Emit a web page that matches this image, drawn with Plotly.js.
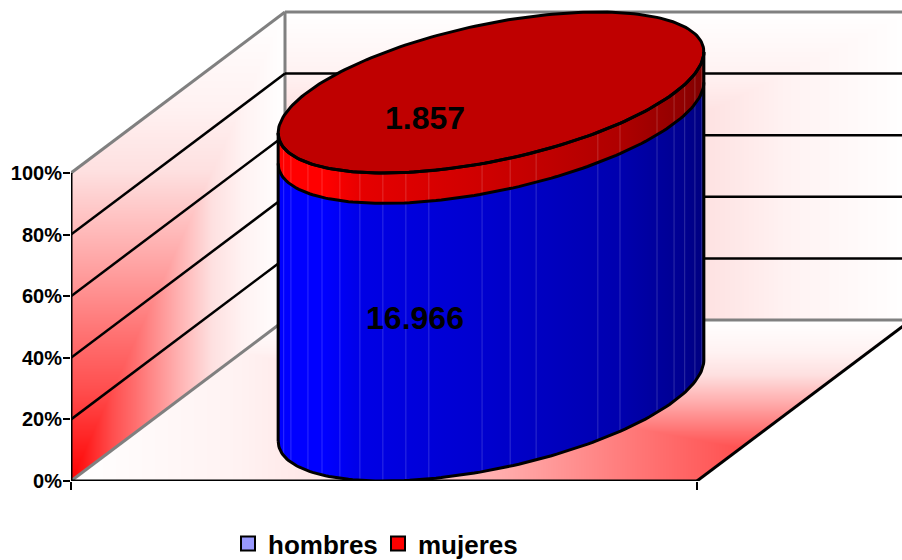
<!DOCTYPE html>
<html>
<head>
<meta charset="utf-8">
<script src="https://cdn.plot.ly/plotly-3.0.1.min.js"></script>
<style>html,body{margin:0;padding:0;background:#fff}#c{width:902px;height:560px}</style>
</head>
<body>
<div id="c"></div>
<script>
// ---- data ----
var seriesNames = ['hombres', 'mujeres'];
var seriesValues = [16966, 1857];
var seriesLabels = ['16.966', '1.857'];
var percentTicks = [0, 20, 40, 60, 80, 100];
var tickLabels = ['0%', '20%', '40%', '60%', '80%', '100%'];
// ---- style ----
var FONT = '"Liberation Sans", Arial, sans-serif';
var pxW = 626, pxH = 308;              // pixels per unit of the front face
var DX = 214 / pxW, DY = 161 / pxH * 100; // oblique depth vector in axis units
var A = 184 / pxW;                     // cylinder half width along the x axis
var facetFracs = [.005,.021,.045,.07,.11,.197,.249,.394,.455,.521,.646,.70,.754,.808,.855,.897,.93,.97,.987];
var sideScale = function (ch) {
  var s = [[0,255],[.11,255],[.2,229],[.5,205],[.8,175],[.95,145],[1,128]];
  return s.map(function (p) {
    return [p[0], ch === 'b' ? 'rgb(0,0,' + p[1] + ')' : 'rgb(' + p[1] + ',0,0)'];
  });
};

var total = seriesValues[0] + seriesValues[1];
var splitPct = seriesValues[0] / total * 100;
var R = Math.sqrt(A * A + DX * DX / 4), phi = Math.atan2(DX / 2, A);
var cx = 0.5 + DX / 2;
function ex(t) { return cx + A * Math.cos(t) + DX / 2 * Math.sin(t); }
function ey(t, p) { return p + DY / 2 * (1 + Math.sin(t)); }
function arc(p, t0, t1, n) {
  var xs = [], ys = [];
  for (var i = 0; i <= n; i++) { var t = t0 + (t1 - t0) * i / n; xs.push(ex(t)); ys.push(ey(t, p)); }
  return {x: xs, y: ys};
}
function sidePoly(p0, p1) {
  var lo = arc(p0, phi - Math.PI, phi, 120), hi = arc(p1, phi, phi - Math.PI, 120);
  return {x: lo.x.concat(hi.x), y: lo.y.concat(hi.y)};
}

// wall and floor gradient (rectangular "from corner" fill)
var xMaxPx = 831, yMaxPx = 470;
var wallZ = [];
for (var j = 0; j < yMaxPx; j++) {
  var row = [], py = 481 - j - 0.5;
  for (var i = 0; i < xMaxPx; i++) {
    var px = 71 + i + 0.5, f = null;
    var dx = px - 71;
    var loY = 481 - dx * 161 / 214, hiY = 173 - dx * 161 / 214;
    if (px <= 285 && py <= loY && py >= hiY) {
      f = Math.max(dx / 214, (481 - py) / 469);          // left wall
    } else if (px >= 285 && py >= 12 && py <= 320) {
      f = Math.max((px - 285) / 626, (320 - py) / 308);  // back wall
    } else if (py >= 320 && py <= 481 && px >= 71 + (481 - py) * 214 / 161 && px <= 697 + (481 - py) * 214 / 161) {
      f = Math.max((911 - px) / 840, (481 - py) / 161);  // floor
    }
    row.push(f);
  }
  wallZ.push(row);
}

function segs(list) {
  var xs = [], ys = [];
  list.forEach(function (s) { xs.push(s[0], s[2], null); ys.push(s[1], s[3], null); });
  return {x: xs, y: ys};
}
var gridList = [], grayList = [];
percentTicks.forEach(function (p) {
  if (p > 0 && p < 100) {
    gridList.push([0, p, DX, p + DY]);
    gridList.push([DX, p + DY, 1 + DX, p + DY]);
  }
});
grayList.push([0, 100, DX, 100 + DY], [DX, 100 + DY, 1 + DX, 100 + DY],
              [0, 0, DX, DY], [DX, DY, 1 + DX, DY], [DX, DY, DX, 100 + DY]);
var axisList = [[0, 0, 0, 100], [0, 0, 1, 0], [1, 0, 1 + DX, DY]];

function lineTrace(l, color, width) {
  var s = segs(l);
  return {type: 'scatter', mode: 'lines', x: s.x, y: s.y, line: {color: color, width: width},
          hoverinfo: 'skip', showlegend: false, cliponaxis: false};
}
function fillTrace(poly, gradient, solid) {
  var tr = {type: 'scatter', mode: 'lines', x: poly.x, y: poly.y, fill: 'toself',
            line: {width: 0, color: 'rgba(0,0,0,0)'}, hoverinfo: 'skip', showlegend: false, cliponaxis: false};
  if (gradient) tr.fillgradient = {type: 'horizontal', colorscale: gradient, start: cx - R, stop: cx + R};
  else tr.fillcolor = solid;
  return tr;
}

var facetX = [], facetY = [];
facetFracs.forEach(function (fr) {
  var t = phi - Math.acos(1 - 2 * fr);
  facetX.push(ex(t), ex(t), null);
  facetY.push(ey(t, 0), ey(t, 100), null);
});

var outlines = [];
[[0], [splitPct], [100]].forEach(function (o) {
  var a = arc(o[0], phi - Math.PI, phi, 120);
  outlines.push(a);
});
var outX = [], outY = [];
outlines.forEach(function (a) { outX = outX.concat(a.x, [null]); outY = outY.concat(a.y, [null]); });
var topE = arc(100, 0, 2 * Math.PI, 240);
outX = outX.concat(topE.x, [null]); outY = outY.concat(topE.y, [null]);
[phi, phi - Math.PI].forEach(function (t) {
  outX.push(ex(t), ex(t), null); outY.push(ey(t, 0), ey(t, 100), null);
});

var traces = [
  {type: 'heatmap', z: wallZ, x0: 0.5 / pxW, dx: 1 / pxW, y0: 0.5 / pxH * 100, dy: 1 / pxH * 100,
   zmin: 0, zmax: 1, showscale: false, hoverinfo: 'skip', zsmooth: false,
   colorscale: [[0,'#ff0000'],[.2,'#ff5050'],[.3,'#ff6e6e'],[.5,'#ffb0b0'],[.66,'#fee0e0'],[.8,'#fff2f2'],[1,'#ffffff']]},
  lineTrace(grayList, '#808080', 3),
  lineTrace(gridList, '#000000', 2.5),
  lineTrace(axisList, '#000000', 3),
  fillTrace(sidePoly(0, splitPct), sideScale('b')),
  fillTrace(sidePoly(splitPct, 100), sideScale('r')),
  fillTrace({x: topE.x, y: topE.y}, null, '#bf0000'),
  {type: 'scatter', mode: 'lines', x: facetX, y: facetY, line: {color: 'rgba(255,255,255,0.18)', width: 1},
   hoverinfo: 'skip', showlegend: false, cliponaxis: false},
  {type: 'scatter', mode: 'lines', x: outX, y: outY, line: {color: '#000000', width: 3},
   hoverinfo: 'skip', showlegend: false, cliponaxis: false},
  {type: 'scatter', mode: 'text', x: [(415 - 71) / pxW, (425 - 71) / pxW], y: [(481 - 320.5) / pxH * 100, (481 - 121) / pxH * 100],
   text: seriesLabels, textposition: 'middle center',
   textfont: {family: FONT, size: 32, color: '#000000', weight: 700}, hoverinfo: 'skip', showlegend: false, cliponaxis: false},
  {type: 'scatter', mode: 'markers', name: seriesNames[0], x: [-1], y: [-50],
   marker: {symbol: 'square', size: 14, color: '#9999ff', line: {color: '#000000', width: 2}}, hoverinfo: 'skip'},
  {type: 'scatter', mode: 'markers', name: seriesNames[1], x: [-1], y: [-50],
   marker: {symbol: 'square', size: 14, color: '#ff0000', line: {color: '#000000', width: 2}}, hoverinfo: 'skip'}
];

var layout = {
  width: 902, height: 560, margin: {l: 71, r: 0, t: 0, b: 79, pad: 0, autoexpand: false},
  paper_bgcolor: '#ffffff', plot_bgcolor: 'rgba(0,0,0,0)', font: {family: FONT, color: '#000000'},
  xaxis: {range: [0, 831 / pxW], showgrid: false, zeroline: false, showline: false, tickmode: 'array',
          tickvals: [0, 1], ticktext: ['', ''], ticks: 'outside', ticklen: 8, tickwidth: 2, tickcolor: '#000000', fixedrange: true},
  yaxis: {range: [0, 481 / pxH * 100], showgrid: false, zeroline: false, showline: false, tickmode: 'array',
          tickvals: percentTicks, ticktext: tickLabels, ticks: 'outside', ticklen: 7, tickwidth: 2, tickcolor: '#000000',
          ticklabelstandoff: -3,
          tickfont: {family: FONT, size: 20, color: '#000000', weight: 700}, fixedrange: true},
  showlegend: true,
  legend: {orientation: 'h', x: (228 - 71) / 831, y: (481 - 520) / 481, xanchor: 'left', yanchor: 'top',
           bgcolor: 'rgba(0,0,0,0)', font: {family: FONT, size: 26, color: '#000000', weight: 700},
           entrywidth: 105, entrywidthmode: 'pixels', traceorder: 'normal'}
};
Plotly.newPlot('c', traces, layout, {displayModeBar: false, staticPlot: true});
</script>
</body>
</html>
